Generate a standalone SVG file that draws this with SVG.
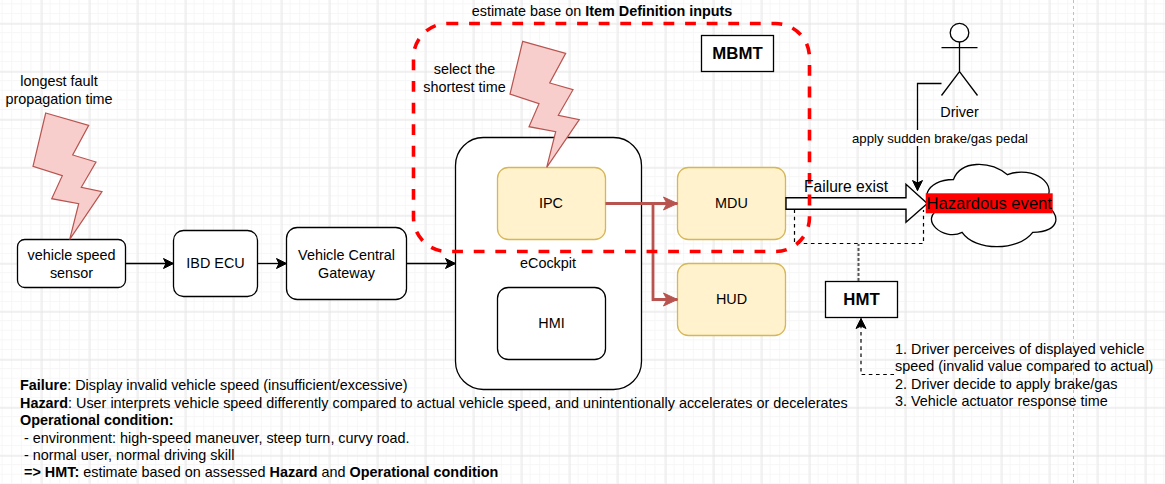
<svg xmlns="http://www.w3.org/2000/svg" width="1165" height="484" viewBox="0 0 1165 484">
<style>
text{font-family:"Liberation Sans",Arial,sans-serif;font-size:14.4px;fill:#000}
.c{text-anchor:middle}
.b{font-weight:bold}
.box{fill:#fff;stroke:#000;stroke-width:1.3}
.y{fill:#fff2cc;stroke:#d6b656;stroke-width:1.3}
.bolt{fill:#f8cecc;stroke:#b85450;stroke-width:1.2}
.line{fill:none;stroke:#000;stroke-width:1.3}
.dash{fill:none;stroke:#000;stroke-width:1.2;stroke-dasharray:3.6 3.6}
.red{fill:none;stroke:#b85450;stroke-width:2.8}
</style>
<defs>
<pattern id="minor" width="9.6" height="9.6" patternUnits="userSpaceOnUse" x="2.6" y="4.3">
<path d="M9.1 0V9.6M0 9.1H9.6" fill="none" stroke="#f6f6f6" stroke-width="1"/>
</pattern>
<pattern id="major" width="48" height="48" patternUnits="userSpaceOnUse" x="-6.5" y="-24.5">
<path d="M0.5 0V48M0 0.5H48" fill="none" stroke="#e5e5e5" stroke-width="1"/>
</pattern>
<marker id="ab" markerUnits="userSpaceOnUse" markerWidth="12" markerHeight="12" refX="11" refY="6" orient="auto">
<path d="M1 1L11 6L1 11L3.5 6Z" fill="#000" stroke="#000" stroke-width="1"/>
</marker>
<marker id="ar" markerUnits="userSpaceOnUse" markerWidth="16" markerHeight="16" refX="15" refY="8" orient="auto">
<path d="M1 1.5L15 8L1 14.5L4.5 8Z" fill="#b85450" stroke="#b85450" stroke-width="1"/>
</marker>
</defs>
<rect width="1165" height="484" fill="#fff"/>
<rect width="1165" height="484" fill="url(#minor)"/>
<rect width="1165" height="484" fill="url(#major)"/>
<path d="M1073.5 0V484" fill="none" stroke="#c0c0c0" stroke-width="1" stroke-dasharray="3 3"/>

<g id="sensor"><rect class="box" x="17.5" y="239.5" width="108" height="48" rx="7.2"/><text class="c" x="71.5" y="260">vehicle speed</text><text class="c" x="71.5" y="277.7">sensor</text></g>
<g id="ibd-ecu"><rect class="box" x="173.5" y="230.5" width="84" height="66" rx="9.9"/><text class="c" x="215.5" y="268">IBD ECU</text></g>
<g id="gateway"><rect class="box" x="286.5" y="227.5" width="120" height="72" rx="10.8"/><text class="c" x="346.5" y="260">Vehicle Central</text><text class="c" x="346.5" y="277.7">Gateway</text></g>
<g id="ecockpit"><rect class="box" x="455.5" y="137.5" width="186" height="252" rx="27.9"/><text class="c" x="548" y="267.7">eCockpit</text></g>
<g id="ipc"><rect class="y" x="497.5" y="167.5" width="108" height="72" rx="10.8"/><text class="c" x="551" y="207.8">IPC</text></g>
<g id="hmi"><rect class="box" x="497.5" y="287.5" width="108" height="72" rx="10.8"/><text class="c" x="551.5" y="328">HMI</text></g>
<g id="mdu"><rect class="y" x="677.5" y="167.5" width="108" height="72" rx="10.8"/><text class="c" x="731.5" y="207.8">MDU</text></g>
<g id="hud"><rect class="y" x="677.5" y="263.5" width="108" height="72" rx="10.8"/><text class="c" x="731.5" y="304">HUD</text></g>
<g id="hmt"><rect class="box" x="825.5" y="281.5" width="72" height="36"/><text class="c b" x="861.5" y="305" style="font-size:16.8px">HMT</text></g>
<g id="cloud"><path d="M953.5 179.5C924.7 179.5 917.5 203.5 940.5 208.3C917.5 218.9 943.4 241.9 962.1 232.3C975.1 251.5 1018.3 251.5 1032.7 232.3C1061.5 232.3 1061.5 213.1 1043.5 203.5C1061.5 184.3 1032.7 165.1 1007.5 174.7C989.5 160.3 960.7 160.3 953.5 179.5Z" fill="#fff" stroke="#000" stroke-width="1.3"/></g>

<g id="connectors">
<path class="line" d="M125.5 263.5H173.5" marker-end="url(#ab)"/>
<path class="line" d="M257.5 263.5H286.5" marker-end="url(#ab)"/>
<path class="line" d="M406.5 263.5H455.5" marker-end="url(#ab)"/>
<path class="red" d="M605.5 203.5H677.5" marker-end="url(#ar)"/>
<path class="red" d="M653 203.5V299.5H677.5" marker-end="url(#ar)"/>
<path class="line" d="M941.5 83.5H917.5V190.5" marker-end="url(#ab)"/>
<path class="dash" d="M794.5 209.5V243.5H923.5V210"/>
<path d="M858.5 281V244" fill="none" stroke="#555" stroke-width="2" stroke-dasharray="3 2"/>
<path class="dash" d="M894 374.5H861V318.5" marker-end="url(#ab)"/>
<path id="failure-arrow" d="M786 197.7H906V184.3L927.3 203.5L906 222.3V209.3H786Z" fill="#fff" stroke="#000" stroke-width="1.4"/>
</g>

<g id="driver" fill="none" stroke="#000" stroke-width="1.3"><circle cx="959.5" cy="32.7" r="9.3" fill="#fff"/><path d="M959.5 42V71.7M941.5 47.7H977.5M941.5 95.5L959.5 71.7L977.5 95.5"/></g>
<text class="c" x="959.5" y="116.5">Driver</text>
<g id="bolt-sensor"><path class="bolt" d="M45.7 113L88.7 125.3L72.7 155L96 162L81.3 187.3L102 191.7L69.7 239.3L78.7 203.7L51.7 198.7L62.3 175.7L33 166.3Z"/></g>
<g id="bolt-ipc"><path class="bolt" d="M522.7 41.3L565.7 53.3L549.7 83L573 89.7L558.3 115.3L579.3 119.7L546.7 167.3L555.7 131.7L529 126.7L539 103.7L510 94Z"/></g>
<g id="mbmt-frame"><rect x="413.5" y="23.5" width="396" height="228" rx="34" fill="none" stroke="#f00" stroke-width="3.6" stroke-dasharray="10.8 10.8"/></g>
<g id="mbmt"><rect class="box" x="701.5" y="35.5" width="72" height="36"/><text class="c b" x="737.5" y="59" style="font-size:16.8px">MBMT</text></g>

<text x="471.7" y="15.5">estimate base on <tspan class="b">Item Definition inputs</tspan></text>
<text class="c" x="464.5" y="74">select the</text><text class="c" x="464.5" y="92">shortest time</text>
<text class="c" x="59" y="86">longest fault</text><text class="c" x="59" y="104">propagation time</text>
<rect x="851" y="130" width="178" height="16" fill="#fff"/>
<text class="c" x="940" y="143" style="font-size:13.2px">apply sudden brake/gas pedal</text>
<text x="804" y="192" style="font-size:15.6px">Failure exist</text>
<rect x="925.7" y="193.3" width="127" height="20" fill="#f00"/>
<text x="926.5" y="209" style="font-size:16.6px">Hazardous event</text>

<text x="895" y="354">1. Driver perceives of displayed vehicle</text>
<text x="895" y="371.3">speed (invalid value compared to actual)</text>
<text x="895" y="388.7">2. Driver decide to apply brake/gas</text>
<text x="895" y="405.7">3. Vehicle actuator response time</text>

<text x="20" y="390"><tspan class="b">Failure</tspan>: Display invalid vehicle speed (insufficient/excessive)</text>
<text x="20" y="407.7"><tspan class="b">Hazard</tspan>: User interprets vehicle speed differently compared to actual vehicle speed, and unintentionally accelerates or decelerates</text>
<text x="20" y="425" class="b">Operational condition:</text>
<text x="24" y="442.7">- environment: high-speed maneuver, steep turn, curvy road.</text>
<text x="24" y="460">- normal user, normal driving skill</text>
<text x="24" y="476.7"><tspan class="b">=&gt; HMT:</tspan> estimate based on assessed <tspan class="b">Hazard</tspan> and <tspan class="b">Operational condition</tspan></text>
</svg>
